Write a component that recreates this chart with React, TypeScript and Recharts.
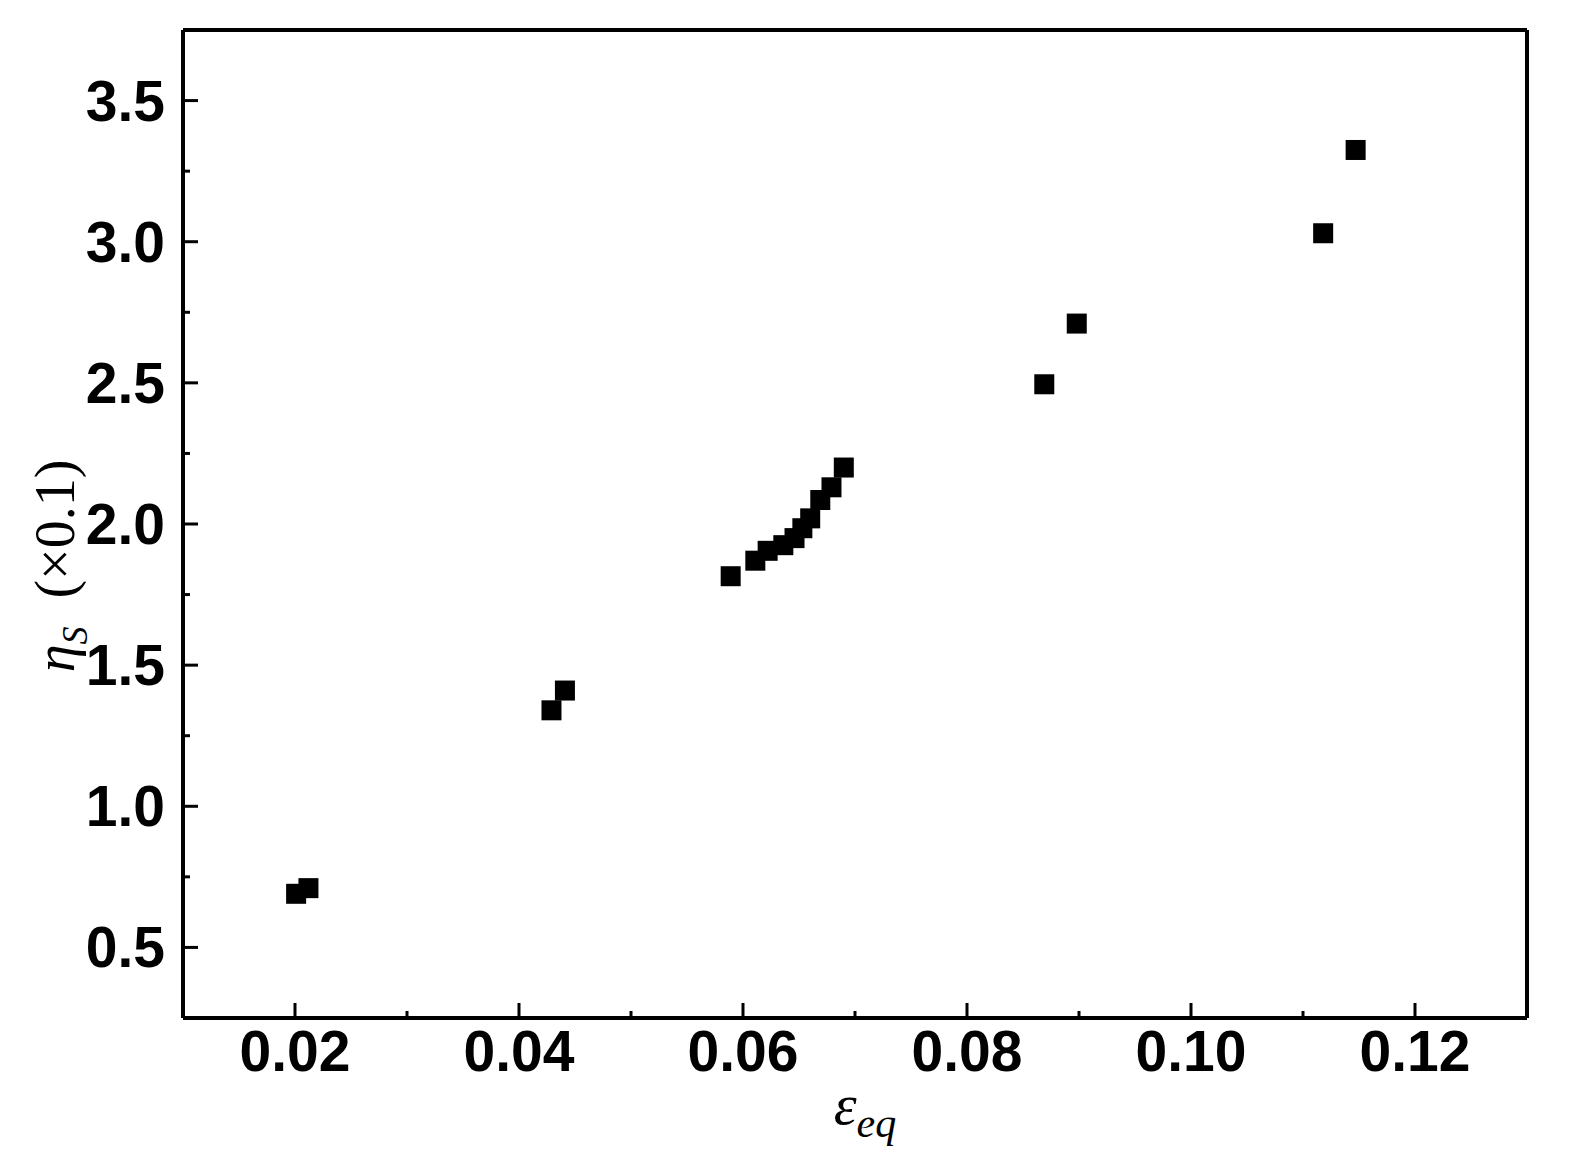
import { ScatterChart, Scatter, XAxis, YAxis, ReferenceLine } from 'recharts';

// strain values (x) and shear-band coefficient (y, ×0.1)
const strainValues = [
  0.0201, 0.0212, 0.0429, 0.0441, 0.0589, 0.0611, 0.0622, 0.0636, 0.0646,
  0.0653, 0.066, 0.0669, 0.0679, 0.069, 0.0869, 0.0898, 0.1118, 0.1147,
];
const etaValues = [
  0.69, 0.71, 1.34, 1.41, 1.815, 1.87, 1.905, 1.925, 1.95,
  1.985, 2.02, 2.085, 2.13, 2.2, 2.495, 2.71, 3.03, 3.325,
];

const xTicks = [0.02, 0.03, 0.04, 0.05, 0.06, 0.07, 0.08, 0.09, 0.1, 0.11, 0.12];
const yTicks = [0.5, 0.75, 1.0, 1.25, 1.5, 1.75, 2.0, 2.25, 2.5, 2.75, 3.0, 3.25, 3.5];

const data = strainValues.map((x, i) => ({ x, y: etaValues[i] }));

const labelFont = '"Liberation Sans", Arial, sans-serif';
const titleFont = '"Liberation Serif", "Times New Roman", serif';

function XTick({ x, y, payload }: any) {
  const v = payload.value as number;
  const major = Math.round(v * 100) % 2 === 0;
  return (
    <g>
      <line x1={x} x2={x} y1={y} y2={y - (major ? 15 : 7)} stroke="#000" strokeWidth={3} />
      {major && (
        <text x={x} y={y + 53} textAnchor="middle" fontFamily={labelFont} fontWeight="bold" fontSize={57} fill="#000">
          {v.toFixed(2)}
        </text>
      )}
    </g>
  );
}

function YTick({ x, y, payload }: any) {
  const v = payload.value as number;
  const major = Math.round(v * 4) % 2 === 0;
  return (
    <g>
      <line x1={x} x2={x + (major ? 15 : 7)} y1={y} y2={y} stroke="#000" strokeWidth={3} />
      {major && (
        <text x={x - 18} y={y + 20} textAnchor="end" fontFamily={labelFont} fontWeight="bold" fontSize={57} fill="#000">
          {v.toFixed(1)}
        </text>
      )}
    </g>
  );
}

function SquareDot({ cx, cy }: any) {
  return <rect x={cx - 10} y={cy - 10} width={20} height={20} fill="#000" />;
}

export default function App() {
  return (
    <div style={{ position: 'absolute', left: 0, top: 0, width: 1572, height: 1176, background: '#fff' }}>
      <ScatterChart width={1572} height={1176} margin={{ top: 30, right: 45, bottom: 58, left: 0 }}>
        <XAxis
          type="number"
          dataKey="x"
          domain={[0.01, 0.13]}
          ticks={xTicks}
          tick={<XTick />}
          tickLine={false}
          tickSize={0}
          tickMargin={0}
          height={100}
          axisLine={{ stroke: '#000', strokeWidth: 4 }}
          interval={0}
        />
        <YAxis
          type="number"
          dataKey="y"
          domain={[0.25, 3.75]}
          ticks={yTicks}
          tick={<YTick />}
          tickLine={false}
          tickSize={0}
          tickMargin={0}
          width={183}
          axisLine={{ stroke: '#000', strokeWidth: 4 }}
          interval={0}
        />
        <ReferenceLine y={3.75} stroke="#000" strokeWidth={4} />
        <ReferenceLine x={0.13} stroke="#000" strokeWidth={4} />
        <Scatter data={data} shape={<SquareDot />} isAnimationActive={false} />
      </ScatterChart>
      <div
        style={{
          position: 'absolute', left: 865, top: 1110, transform: 'translate(-50%, -50%)',
          fontFamily: titleFont, fontStyle: 'italic', fontSize: 58, whiteSpace: 'nowrap', lineHeight: 1,
        }}
      >
        ε<sub style={{ fontSize: 42 }}>eq</sub>
      </div>
      <div
        style={{
          position: 'absolute', left: 60, top: 566, transform: 'translate(-50%, -50%) rotate(-90deg)',
          fontFamily: titleFont, fontSize: 56, whiteSpace: 'nowrap', lineHeight: 1,
        }}
      >
        <i>η<sub style={{ fontSize: 36, fontStyle: 'italic' }}>S</sub></i>&nbsp;&nbsp;(×0.1)
      </div>
    </div>
  );
}
